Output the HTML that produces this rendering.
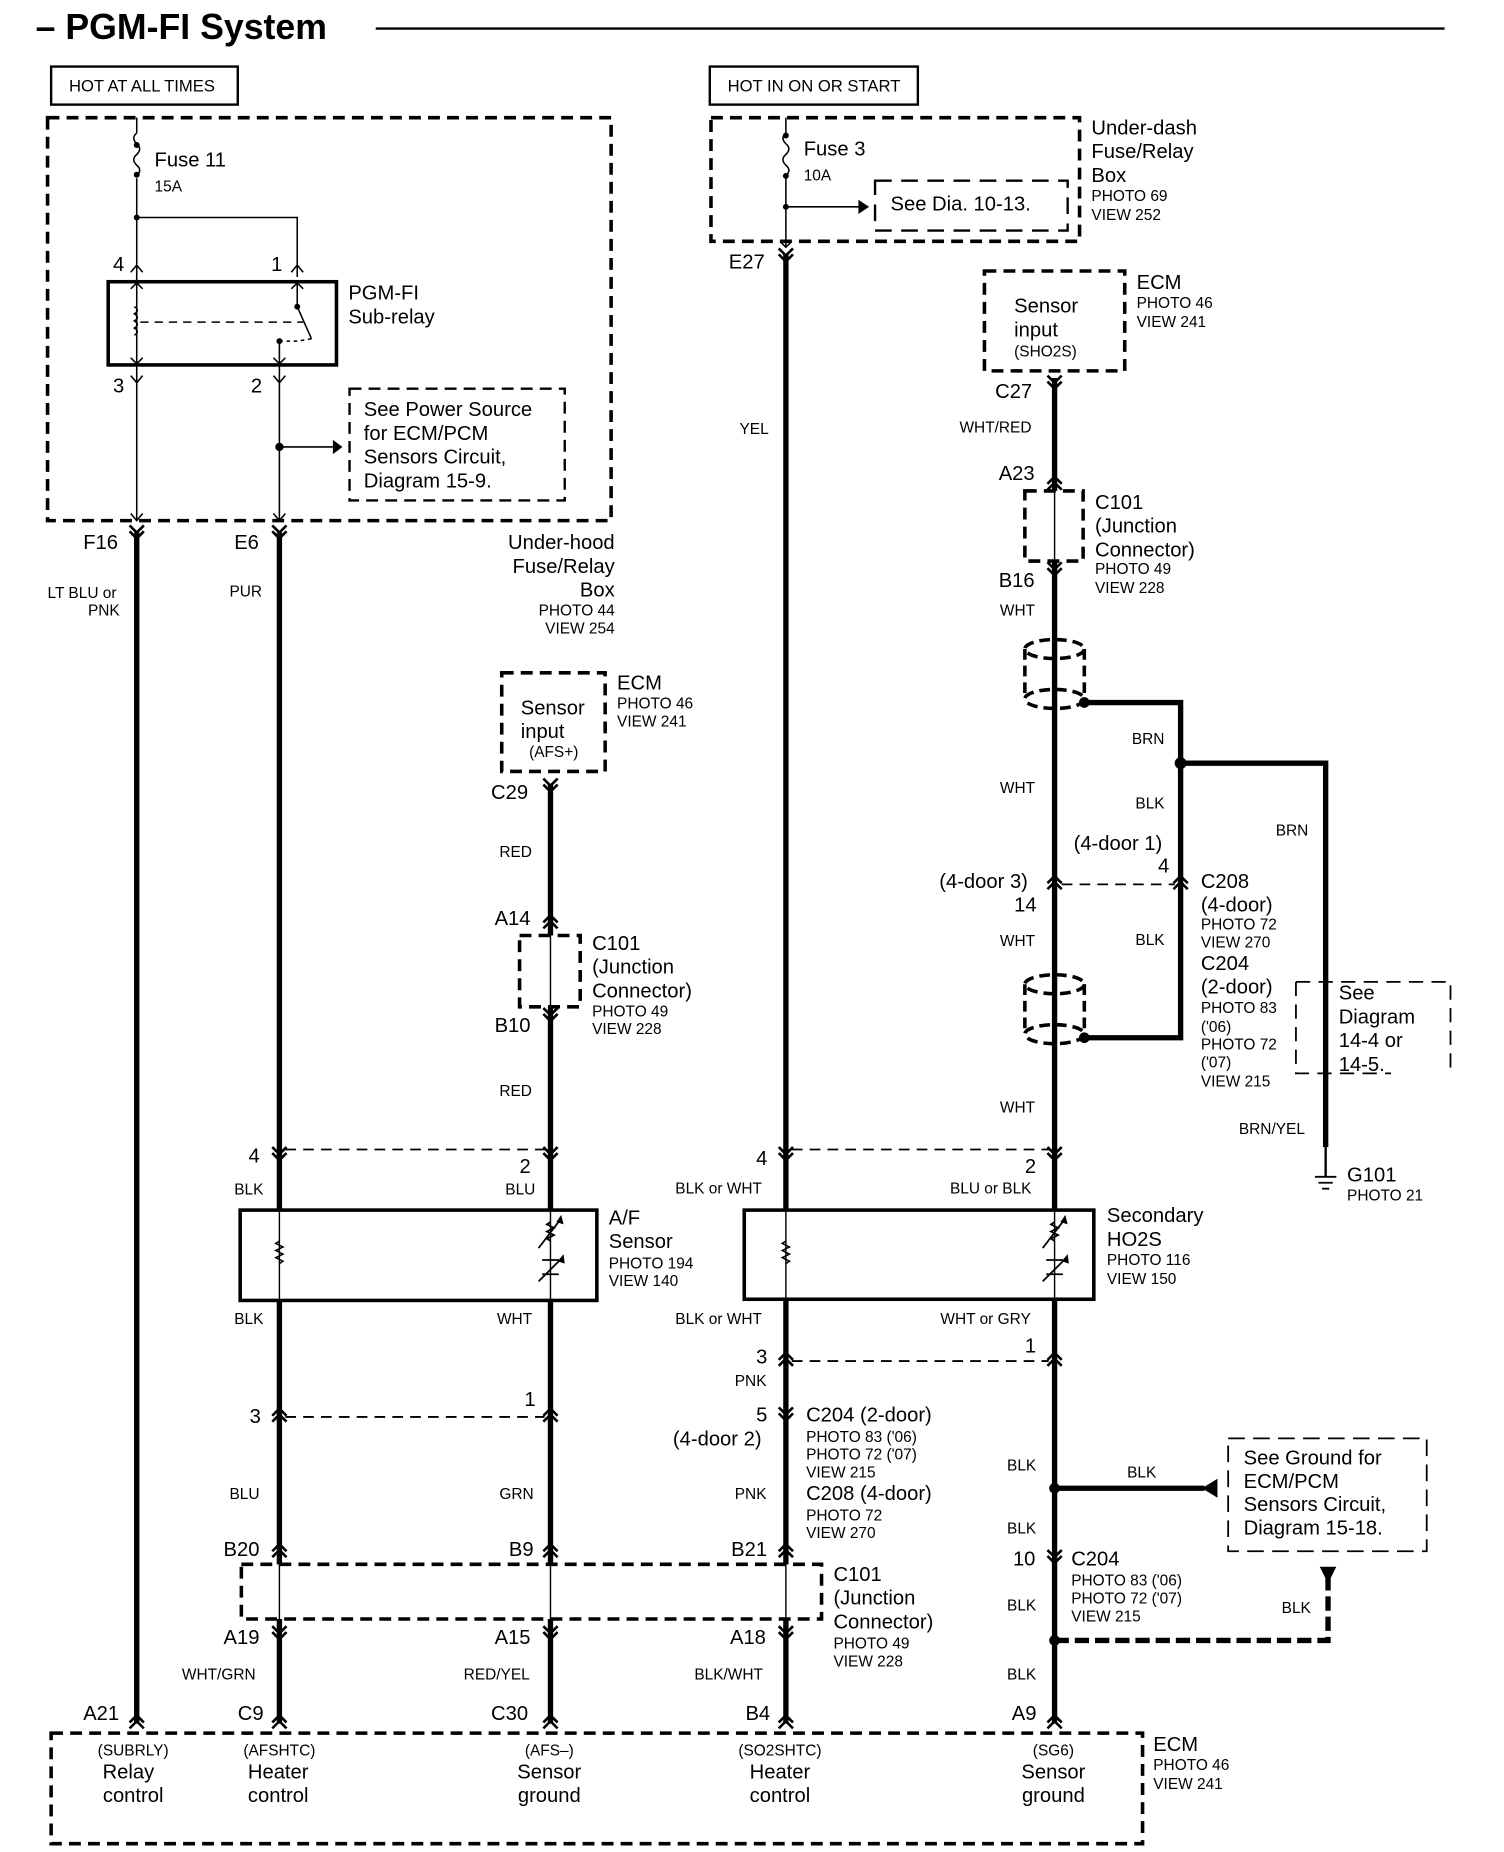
<!DOCTYPE html>
<html><head><meta charset="utf-8"><style>
html,body{margin:0;padding:0;background:#fff;}
svg{display:block;}
text{font-family:"Liberation Sans",sans-serif;fill:#000;}
.l{font-size:17px;}
.s{font-size:13px;}
.w{font-size:14px;}
</style></head><body>
<svg width="1504" height="1852" viewBox="0 0 1265 1558" preserveAspectRatio="none" xmlns="http://www.w3.org/2000/svg">
<defs>
<g id="cu"><path d="M-6,5 L0,-1 L6,5 M-6,10 L0,4 L6,10" fill="none" stroke="#000" stroke-width="2.2"/></g>
<g id="cd"><path d="M-6,-5 L0,1 L6,-5 M-6,-10 L0,-4 L6,-10" fill="none" stroke="#000" stroke-width="2.2"/></g>
<g id="sh"><g fill="none" stroke="#000" stroke-width="3" stroke-dasharray="9,5"><ellipse cx="0" cy="0" rx="25" ry="8"/><ellipse cx="0" cy="42" rx="25" ry="8"/><path d="M-25,0 V42 M25,0 V42"/></g></g>
</defs>
<rect width="1265" height="1558" fill="#fff"/>

<!-- title -->
<text x="30" y="33" style="font-size:30px;font-weight:bold">– PGM-FI System</text>
<line x1="316" y1="24" x2="1215" y2="24" stroke="#000" stroke-width="2"/>

<rect x="43" y="56" width="157" height="32" fill="none" stroke="#000" stroke-width="2"/>
<text x="58" y="77" class="w">HOT AT ALL TIMES</text>
<rect x="597" y="56" width="175" height="32" fill="none" stroke="#000" stroke-width="2"/>
<text x="612" y="77" class="w">HOT IN ON OR START</text>

<!-- left box -->
<rect x="40" y="99" width="474" height="339" fill="none" stroke="#000" stroke-width="3" stroke-dasharray="10,6"/>
<g stroke="#000" stroke-width="1.3" fill="none">
<path d="M115,99 V112 M115,150 V237"/>
<path d="M115,112 q-5,4 0,9 q5,4 0,9 q-5,4 0,9 q5,4 0,9"/>
<path d="M115,183 H250 V233"/>
<path d="M115,307 V438 M235,307 V438"/>
<path d="M115,237 V307"/>
<path d="M250,237 V258 L262,285 M235,287 V307"/>
<path d="M118,271 H255" stroke-dasharray="7,5"/>
<path d="M235,287 H250 L262,285" stroke-dasharray="3,3"/>
<path d="M235,376 H280"/>
</g>
<path d="M113,258 q5,3 0,6 q5,3 0,6 q5,3 0,6 q5,3 0,6" stroke="#000" fill="none" stroke-width="1.3"/>
<circle cx="115" cy="122" r="2.5"/><circle cx="115" cy="147" r="2.5"/>
<circle cx="115" cy="183" r="2.5"/><circle cx="250" cy="258" r="2.5"/><circle cx="235" cy="287" r="2.5"/>
<circle cx="235" cy="376" r="3.5"/>
<polygon points="280,370 288,376 280,382"/>
<path d="M110,229 L115,223 L120,229 M245,229 L250,223 L255,229 M110,316 L115,322 L120,316 M230,316 L235,322 L240,316 M110,432 L115,438 L120,432 M230,432 L235,438 L240,432 M110,243 L115,238 L120,243 M245,243 L250,238 L255,243 M110,301 L115,306 L120,301 M230,301 L235,306 L240,301" stroke="#000" fill="none" stroke-width="1.3"/>
<rect x="91" y="237" width="192" height="70" fill="none" stroke="#000" stroke-width="3"/>
<text x="130" y="140" class="l">Fuse 11</text>
<text x="130" y="161" class="s">15A</text>
<text x="95" y="228" class="l">4</text><text x="228" y="228" class="l">1</text>
<text x="95" y="330" class="l">3</text><text x="211" y="330" class="l">2</text>
<text x="293" y="252" class="l">PGM-FI</text><text x="293" y="272" class="l">Sub-relay</text>
<rect x="294" y="327" width="181" height="94" fill="none" stroke="#000" stroke-width="2" stroke-dasharray="10,6"/>
<text x="306" y="350" class="l">See Power Source</text>
<text x="306" y="370" class="l">for ECM/PCM</text>
<text x="306" y="390" class="l">Sensors Circuit,</text>
<text x="306" y="410" class="l">Diagram 15-9.</text>

<!-- thick wires -->
<g stroke="#000" stroke-width="4.5" fill="none">
<path d="M115,448 V1450"/>
<path d="M235,448 V1450"/>
<path d="M463,660 V1450"/>
<path d="M661,213 V1450"/>
<path d="M887,318 V1450"/>
<path d="M912,591 H993 V873 H912"/>
<path d="M993,642 H1115 V965"/>
<path d="M887,1252 H1013"/>
</g>
<g stroke="#fff" stroke-width="6">
<path d="M235,1018 V1094 M463,1018 V1094 M661,1018 V1094 M887,1018 V1094"/>
<path d="M235,1316 V1362 M463,1316 V1362 M661,1316 V1362 M887,413 V472 M463,787 V847"/>
</g>
<path d="M235,1018 V1094 M463,1018 V1094 M661,1018 V1094 M887,1018 V1094 M235,1316 V1362 M463,1316 V1362 M661,1316 V1362 M887,413 V472 M463,787 V847" stroke="#000" stroke-width="1.2"/>
<path d="M887,1380 H1117 V1325" stroke="#000" stroke-width="4.5" stroke-dasharray="12,5" fill="none"/>
<polygon points="1110,1318 1124,1318 1117,1332"/>
<polygon points="1011,1252 1024,1244 1024,1260"/>
<circle cx="887" cy="1252" r="4.5"/><circle cx="887" cy="1380" r="4.5"/>
<circle cx="912" cy="591" r="4.5"/><circle cx="912" cy="873" r="4.5"/><circle cx="993" cy="642" r="5"/>

<!-- connectors -->
<use href="#cd" x="115" y="452"/><use href="#cd" x="235" y="452"/>
<use href="#cd" x="463" y="665"/><use href="#cu" x="463" y="771"/><use href="#cd" x="463" y="858"/>
<use href="#cd" x="235" y="975"/><use href="#cd" x="463" y="975"/>
<use href="#cu" x="235" y="1186"/><use href="#cu" x="463" y="1186"/>
<use href="#cu" x="235" y="1300"/><use href="#cu" x="463" y="1300"/><use href="#cu" x="661" y="1300"/>
<use href="#cd" x="235" y="1378"/><use href="#cd" x="463" y="1378"/><use href="#cd" x="661" y="1378"/>
<use href="#cu" x="115" y="1444"/><use href="#cu" x="235" y="1444"/><use href="#cu" x="463" y="1444"/><use href="#cu" x="661" y="1444"/><use href="#cu" x="887" y="1444"/>
<use href="#cd" x="661" y="219"/>
<use href="#cd" x="887" y="326"/><use href="#cu" x="887" y="402"/><use href="#cd" x="887" y="483"/>
<use href="#cu" x="887" y="738"/><use href="#cu" x="993" y="738"/>
<use href="#cd" x="661" y="975"/><use href="#cd" x="887" y="975"/>
<use href="#cu" x="661" y="1139"/><use href="#cu" x="887" y="1139"/>
<use href="#cd" x="661" y="1194"/><use href="#cd" x="887" y="1314"/>

<!-- shields -->
<use href="#sh" x="887" y="546"/><use href="#sh" x="887" y="828"/>

<!-- dashed pin lines -->
<g stroke="#000" stroke-width="1.5" stroke-dasharray="9,6">
<path d="M240,967 H458 M240,1192 H458 M666,967 H882 M666,1145 H882 M893,744 H988"/>
</g>

<!-- left labels -->
<text x="70" y="462" class="l">F16</text><text x="197" y="462" class="l">E6</text>
<text x="40" y="503" class="s">LT BLU or</text><text x="74" y="518" class="s">PNK</text>
<text x="193" y="502" class="s">PUR</text>
<g class="l" text-anchor="end"><text x="517" y="462">Under-hood</text><text x="517" y="482">Fuse/Relay</text><text x="517" y="502">Box</text></g>
<g class="s" text-anchor="end"><text x="517" y="518">PHOTO 44</text><text x="517" y="533">VIEW 254</text></g>

<rect x="422" y="566" width="87" height="83" fill="none" stroke="#000" stroke-width="3" stroke-dasharray="10,6"/>
<text x="438" y="601" class="l">Sensor</text><text x="438" y="621" class="l">input</text><text x="445" y="637" class="s">(AFS+)</text>
<text x="519" y="580" class="l">ECM</text><text x="519" y="596" class="s">PHOTO 46</text><text x="519" y="611" class="s">VIEW 241</text>
<text x="413" y="672" class="l">C29</text>
<text x="420" y="721" class="s">RED</text>
<text x="416" y="778" class="l">A14</text>
<rect x="437" y="787" width="51" height="60" fill="none" stroke="#000" stroke-width="3" stroke-dasharray="10,6"/>
<text x="416" y="868" class="l">B10</text>
<text x="498" y="799" class="l">C101</text><text x="498" y="819" class="l">(Junction</text><text x="498" y="839" class="l">Connector)</text>
<text x="498" y="855" class="s">PHOTO 49</text><text x="498" y="870" class="s">VIEW 228</text>
<text x="420" y="922" class="s">RED</text>

<text x="209" y="978" class="l">4</text><text x="437" y="987" class="l">2</text>
<text x="197" y="1005" class="s">BLK</text><text x="425" y="1005" class="s">BLU</text>
<rect x="202" y="1018" width="300" height="76" fill="none" stroke="#000" stroke-width="3"/>
<path d="M235,1044 l-3,2 l6,3 l-6,3 l6,3 l-6,3 l6,3 l-3,2" stroke="#000" fill="none" stroke-width="1.3"/>
<path d="M463,1028 l-3,2 l6,3 l-6,3 l6,3 l-6,3 l3,2 M453,1050 L472,1025 M456,1060 H470 M456,1072 H470 M453,1078 L473,1058" stroke="#000" fill="none" stroke-width="1.5"/>
<polygon points="472,1022 474,1030 468,1028"/><polygon points="474,1055 475,1063 469,1061"/>
<text x="512" y="1030" class="l">A/F</text><text x="512" y="1050" class="l">Sensor</text>
<text x="512" y="1067" class="s">PHOTO 194</text><text x="512" y="1082" class="s">VIEW 140</text>
<text x="197" y="1114" class="s">BLK</text><text x="418" y="1114" class="s">WHT</text>
<text x="210" y="1197" class="l">3</text><text x="441" y="1183" class="l">1</text>
<text x="193" y="1261" class="s">BLU</text><text x="420" y="1261" class="s">GRN</text>
<text x="188" y="1309" class="l">B20</text><text x="428" y="1309" class="l">B9</text><text x="615" y="1309" class="l">B21</text>
<rect x="203" y="1316" width="488" height="46" fill="none" stroke="#000" stroke-width="3" stroke-dasharray="10,6"/>
<text x="701" y="1330" class="l">C101</text><text x="701" y="1350" class="l">(Junction</text><text x="701" y="1370" class="l">Connector)</text>
<text x="701" y="1387" class="s">PHOTO 49</text><text x="701" y="1402" class="s">VIEW 228</text>
<text x="188" y="1383" class="l">A19</text><text x="416" y="1383" class="l">A15</text><text x="614" y="1383" class="l">A18</text>
<text x="153" y="1413" class="s">WHT/GRN</text><text x="390" y="1413" class="s">RED/YEL</text><text x="584" y="1413" class="s">BLK/WHT</text>
<text x="70" y="1447" class="l">A21</text><text x="200" y="1447" class="l">C9</text><text x="413" y="1447" class="l">C30</text><text x="627" y="1447" class="l">B4</text><text x="851" y="1447" class="l">A9</text>

<rect x="43" y="1458" width="918" height="93" fill="none" stroke="#000" stroke-width="3" stroke-dasharray="10,6"/>
<g text-anchor="middle">
<text x="112" y="1477" class="s">(SUBRLY)</text><text x="108" y="1496" class="l">Relay</text><text x="112" y="1516" class="l">control</text>
<text x="235" y="1477" class="s">(AFSHTC)</text><text x="234" y="1496" class="l">Heater</text><text x="234" y="1516" class="l">control</text>
<text x="462" y="1477" class="s">(AFS–)</text><text x="462" y="1496" class="l">Sensor</text><text x="462" y="1516" class="l">ground</text>
<text x="656" y="1477" class="s">(SO2SHTC)</text><text x="656" y="1496" class="l">Heater</text><text x="656" y="1516" class="l">control</text>
<text x="886" y="1477" class="s">(SG6)</text><text x="886" y="1496" class="l">Sensor</text><text x="886" y="1516" class="l">ground</text>
</g>
<text x="970" y="1473" class="l">ECM</text><text x="970" y="1489" class="s">PHOTO 46</text><text x="970" y="1505" class="s">VIEW 241</text>

<!-- right top -->
<rect x="598" y="99" width="310" height="104" fill="none" stroke="#000" stroke-width="3" stroke-dasharray="10,6"/>
<path d="M661,99 V112 M661,150 V208 M661,174 H722" stroke="#000" stroke-width="1.3" fill="none"/>
<path d="M661,112 q-5,4 0,9 q5,4 0,9 q-5,4 0,9 q5,4 0,9" stroke="#000" stroke-width="1.3" fill="none"/>
<circle cx="661" cy="114" r="2.5"/><circle cx="661" cy="148" r="2.5"/><circle cx="661" cy="174" r="2.5"/>
<polygon points="722,168 731,174 722,180"/>
<path d="M656,203 L661,208 L666,203" stroke="#000" fill="none" stroke-width="1.3"/>
<rect x="736" y="152" width="162" height="42" fill="none" stroke="#000" stroke-width="2" stroke-dasharray="14,8"/>
<text x="749" y="177" class="l">See Dia. 10-13.</text>
<text x="676" y="131" class="l">Fuse 3</text><text x="676" y="152" class="s">10A</text>
<text x="918" y="113" class="l">Under-dash</text><text x="918" y="133" class="l">Fuse/Relay</text><text x="918" y="153" class="l">Box</text>
<text x="918" y="169" class="s">PHOTO 69</text><text x="918" y="185" class="s">VIEW 252</text>
<text x="613" y="226" class="l">E27</text>
<text x="622" y="365" class="s">YEL</text>

<rect x="828" y="228" width="118" height="84" fill="none" stroke="#000" stroke-width="3" stroke-dasharray="10,6"/>
<text x="853" y="263" class="l">Sensor</text><text x="853" y="283" class="l">input</text><text x="853" y="300" class="s">(SHO2S)</text>
<text x="956" y="243" class="l">ECM</text><text x="956" y="259" class="s">PHOTO 46</text><text x="956" y="275" class="s">VIEW 241</text>
<text x="837" y="335" class="l">C27</text>
<text x="807" y="364" class="s">WHT/RED</text>
<text x="840" y="404" class="l">A23</text>
<rect x="862" y="413" width="49" height="59" fill="none" stroke="#000" stroke-width="3" stroke-dasharray="10,6"/>
<text x="921" y="428" class="l">C101</text><text x="921" y="448" class="l">(Junction</text><text x="921" y="468" class="l">Connector)</text>
<text x="921" y="483" class="s">PHOTO 49</text><text x="921" y="499" class="s">VIEW 228</text>
<text x="840" y="494" class="l">B16</text>
<text x="841" y="518" class="s">WHT</text>
<text x="952" y="626" class="s">BRN</text>
<text x="841" y="667" class="s">WHT</text>
<text x="955" y="680" class="s">BLK</text>
<text x="1073" y="703" class="s">BRN</text>
<text x="903" y="715" class="l">(4-door 1)</text><text x="974" y="734" class="l">4</text>
<text x="790" y="747" class="l">(4-door 3)</text><text x="853" y="767" class="l">14</text>
<text x="841" y="796" class="s">WHT</text><text x="955" y="795" class="s">BLK</text>
<text x="1010" y="747" class="l">C208</text><text x="1010" y="767" class="l">(4-door)</text>
<text x="1010" y="782" class="s">PHOTO 72</text><text x="1010" y="797" class="s">VIEW 270</text>
<text x="1010" y="816" class="l">C204</text><text x="1010" y="836" class="l">(2-door)</text>
<text x="1010" y="852" class="s">PHOTO 83</text><text x="1010" y="868" class="s">('06)</text>
<text x="1010" y="883" class="s">PHOTO 72</text><text x="1010" y="898" class="s">('07)</text>
<text x="1010" y="914" class="s">VIEW 215</text>
<path d="M1090,826 H1220 V903 M1090,826 V903 H1170" stroke="#000" fill="none" stroke-width="1.5" stroke-dasharray="12,7"/>
<text x="1126" y="841" class="l">See</text><text x="1126" y="861" class="l">Diagram</text><text x="1126" y="881" class="l">14-4 or</text><text x="1126" y="901" class="l">14-5.</text>
<text x="841" y="936" class="s">WHT</text>
<text x="1042" y="954" class="s">BRN/YEL</text>
<path d="M1106,990 H1124 M1109,995 H1121 M1112,1000 H1118" stroke="#000" stroke-width="1.5"/>
<path d="M1115,965 V990" stroke="#000" stroke-width="2"/>
<text x="1133" y="994" class="l">G101</text><text x="1133" y="1010" class="s">PHOTO 21</text>

<text x="636" y="980" class="l">4</text><text x="862" y="987" class="l">2</text>
<text x="568" y="1004" class="s">BLK or WHT</text><text x="799" y="1004" class="s">BLU or BLK</text>
<rect x="626" y="1018" width="294" height="75" fill="none" stroke="#000" stroke-width="3"/>
<path d="M661,1044 l-3,2 l6,3 l-6,3 l6,3 l-6,3 l6,3 l-3,2" stroke="#000" fill="none" stroke-width="1.3"/>
<path d="M887,1028 l-3,2 l6,3 l-6,3 l6,3 l-6,3 l3,2 M877,1050 L896,1025 M880,1060 H894 M880,1072 H894 M877,1078 L897,1058" stroke="#000" fill="none" stroke-width="1.5"/>
<polygon points="896,1022 898,1030 892,1028"/><polygon points="898,1055 899,1063 893,1061"/>
<text x="931" y="1028" class="l">Secondary</text><text x="931" y="1048" class="l">HO2S</text>
<text x="931" y="1064" class="s">PHOTO 116</text><text x="931" y="1080" class="s">VIEW 150</text>
<text x="568" y="1114" class="s">BLK or WHT</text><text x="791" y="1114" class="s">WHT or GRY</text>
<text x="636" y="1147" class="l">3</text><text x="862" y="1138" class="l">1</text>
<text x="618" y="1166" class="s">PNK</text>
<text x="636" y="1196" class="l">5</text>
<text x="678" y="1196" class="l">C204 (2-door)</text>
<text x="566" y="1216" class="l">(4-door 2)</text>
<text x="678" y="1213" class="s">PHOTO 83 ('06)</text><text x="678" y="1228" class="s">PHOTO 72 ('07)</text><text x="678" y="1243" class="s">VIEW 215</text>
<text x="618" y="1261" class="s">PNK</text>
<text x="678" y="1262" class="l">C208 (4-door)</text>
<text x="678" y="1279" class="s">PHOTO 72</text><text x="678" y="1294" class="s">VIEW 270</text>

<text x="847" y="1237" class="s">BLK</text><text x="948" y="1243" class="s">BLK</text>
<path d="M1033,1210 H1200 V1305 H1033 Z" stroke="#000" fill="none" stroke-width="1.5" stroke-dasharray="14,7"/>
<text x="1046" y="1232" class="l">See Ground for</text><text x="1046" y="1252" class="l">ECM/PCM</text>
<text x="1046" y="1271" class="l">Sensors Circuit,</text><text x="1046" y="1291" class="l">Diagram 15-18.</text>
<text x="847" y="1290" class="s">BLK</text>
<text x="852" y="1317" class="l">10</text><text x="901" y="1317" class="l">C204</text>
<text x="901" y="1334" class="s">PHOTO 83 ('06)</text><text x="901" y="1349" class="s">PHOTO 72 ('07)</text><text x="901" y="1364" class="s">VIEW 215</text>
<text x="847" y="1355" class="s">BLK</text><text x="1078" y="1357" class="s">BLK</text>
<text x="847" y="1413" class="s">BLK</text>
</svg>
</body></html>
